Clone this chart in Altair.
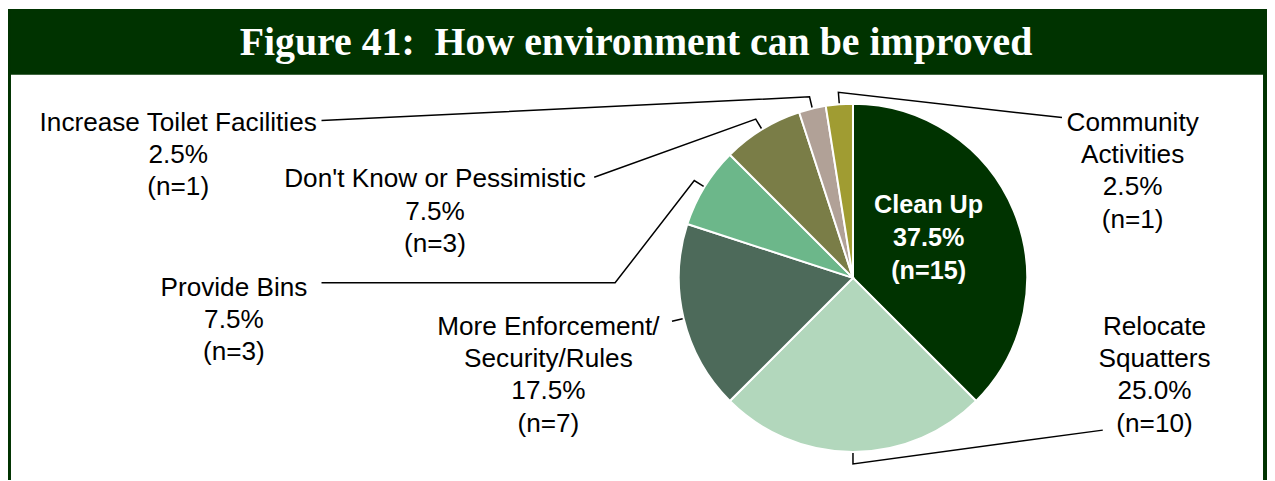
import math
import altair as alt
import pandas as pd

# ---------------- data ----------------
categories = [
    "Clean Up",
    "Relocate Squatters",
    "More Enforcement/ Security/Rules",
    "Provide Bins",
    "Don't Know or Pessimistic",
    "Increase Toilet Facilities",
    "Community Activities",
]
counts = [15, 10, 7, 3, 3, 1, 1]
label_lines = [
    ["Clean Up"],
    ["Relocate", "Squatters"],
    ["More Enforcement/", "Security/Rules"],
    ["Provide Bins"],
    ["Don't Know or Pessimistic"],
    ["Increase Toilet Facilities"],
    ["Community", "Activities"],
]
title_text = "Figure 41:\u00a0\u00a0How environment can be improved"

# ---------------- styles / layout ----------------
colors = ["#003300", "#b2d7bc", "#4d6a5a", "#6cb78a", "#7a7d47", "#b1a197", "#a09c32"]
OFF = 8                      # page margin
W, H = 1265, 473             # chart size
PIE_CX, PIE_CY, R = 857 - OFF, 278 - OFF, 175
GREEN = "#003300"
FS = 26.3

# label anchor (page coords): center x, first baseline y
label_pos = {
    "Clean Up": (933, 213),
    "Relocate Squatters": (1160, 335),
    "More Enforcement/ Security/Rules": (551, 335),
    "Provide Bins": (235, 296),
    "Don't Know or Pessimistic": (437, 187),
    "Increase Toilet Facilities": (179, 130),
    "Community Activities": (1138, 130),
}
# leader line end points toward labels (page coords), after the elbow
leader_tail = {
    "Relocate Squatters": [(1108, 431)],
    "More Enforcement/ Security/Rules": [],
    "Provide Bins": [(618, 283), (323, 283)],
    "Don't Know or Pessimistic": [(597, 177)],
    "Increase Toilet Facilities": [(323, 120)],
    "Community Activities": [(1067, 117)],
}

total = sum(counts)
pie_df = pd.DataFrame({
    "category": categories,
    "count": counts,
    "order": list(range(len(categories))),
})

# text labels
rows = []
for cat, n, lines in zip(categories, counts, label_lines):
    pct = f"{n / total * 100:.1f}%"
    txt = "\n".join(lines + [pct, f"(n={n})"])
    px, py = label_pos[cat]
    rows.append({"category": cat, "text": txt, "x": px - OFF, "y": py - OFF})
lab_df = pd.DataFrame(rows)

# leader lines from slice mid-angles
pts = []
cum = 0
for cat, n in zip(categories, counts):
    mid = (cum + n / 2) / total * 2 * math.pi
    cum += n
    if cat not in leader_tail:
        continue
    s, c = math.sin(mid), math.cos(mid)
    seq = 0
    for rr in (R + 1, R + 12):
        pts.append({"category": cat, "seq": seq, "x": PIE_CX + rr * s, "y": PIE_CY - rr * c})
        seq += 1
    for (px, py) in leader_tail[cat]:
        pts.append({"category": cat, "seq": seq, "x": px - OFF, "y": py - OFF})
        seq += 1
line_df = pd.DataFrame(pts)

# ---------------- layers ----------------
one = pd.DataFrame({"k": [0]})
band = alt.Chart(one).mark_rect(color=GREEN).encode(
    x=alt.value(0), x2=alt.value(W), y=alt.value(0), y2=alt.value(74 - OFF)
)
left_border = alt.Chart(one).mark_rect(color=GREEN).encode(
    x=alt.value(0), x2=alt.value(3), y=alt.value(0), y2=alt.value(H)
)
right_border = alt.Chart(one).mark_rect(color=GREEN).encode(
    x=alt.value(W - 4), x2=alt.value(W), y=alt.value(0), y2=alt.value(H)
)
title = alt.Chart(pd.DataFrame({"t": [title_text]})).mark_text(
    font="Liberation Serif", fontWeight="bold", fontSize=40, color="white",
    align="center", baseline="alphabetic"
).encode(x=alt.value(639 - OFF), y=alt.value(54 - OFF), text="t:N")

pie = alt.Chart(pie_df).mark_arc(radius=R, stroke="white", strokeWidth=2).encode(
    theta=alt.Theta("count:Q", stack=True),
    order=alt.Order("order:Q"),
    color=alt.Color("category:N", scale=alt.Scale(domain=categories, range=colors), legend=None),
    x=alt.value(PIE_CX),
    y=alt.value(PIE_CY),
)

leaders = alt.Chart(line_df).mark_line(color="black", strokeWidth=1.5).encode(
    x=alt.X("x:Q", scale=None),
    y=alt.Y("y:Q", scale=None),
    detail="category:N",
    order="seq:Q",
)

outer_labels = alt.Chart(lab_df[lab_df.category != "Clean Up"]).mark_text(
    font="Liberation Sans", fontSize=FS, lineHeight=32.5, color="black",
    align="center", baseline="alphabetic", lineBreak="\n"
).encode(x=alt.X("x:Q", scale=None), y=alt.Y("y:Q", scale=None), text="text:N")

inner_labels = alt.Chart(lab_df[lab_df.category == "Clean Up"]).mark_text(
    font="Liberation Sans", fontSize=FS - 1, fontWeight="bold", lineHeight=33, color="white",
    align="center", baseline="alphabetic", lineBreak="\n"
).encode(x=alt.X("x:Q", scale=None), y=alt.Y("y:Q", scale=None), text="text:N")

chart = alt.layer(
    band, left_border, right_border, title, pie, leaders, outer_labels, inner_labels
).properties(
    width=W, height=H, padding=0, autosize="none", background="white"
).configure_view(stroke=None)

chart.save("out.html", embed_options={"renderer": "svg", "actions": False})
